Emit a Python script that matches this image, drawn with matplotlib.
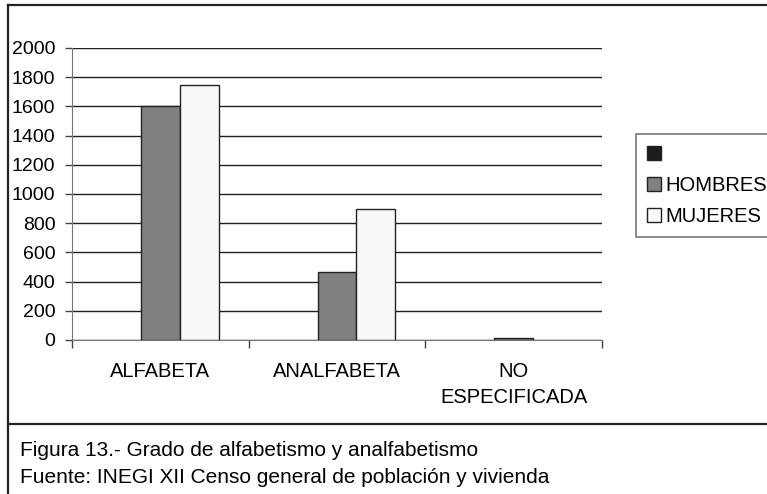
import matplotlib
matplotlib.use("AGG")
import matplotlib.pyplot as plt
from matplotlib.patches import Patch
from matplotlib.lines import Line2D
import numpy as np

categorias = ['ALFABETA', 'ANALFABETA', 'NO\nESPECIFICADA']
serie_vacia = [0, 0, 0]
hombres = [1600, 465, 12]
mujeres = [1745, 895, 0]
etiquetas = ['', 'HOMBRES', 'MUJERES']
colores = ['#1c1c1c', '#808080', '#f8f8f8']
y_ticks = [0, 200, 400, 600, 800, 1000, 1200, 1400, 1600, 1800, 2000]

plt.rcParams['font.family'] = ['Liberation Sans', 'DejaVu Sans']

fig = plt.figure(figsize=(7.67, 4.94), dpi=100)
ax = fig.add_axes([72 / 767, 1 - 340 / 494, 530 / 767, 292 / 494])

x = np.arange(len(categorias))
w = 0.22
for k, serie in enumerate([serie_vacia, hombres, mujeres]):
    bordes = ['#222222' if v > 0 else 'none' for v in serie]
    ax.bar(x + (k - 1) * w, serie, w, color=colores[k], edgecolor=bordes,
           linewidth=1.0, zorder=3)

ax.set_xlim(-0.5, 2.5)
ax.set_ylim(0, 2000)
ax.set_yticks(y_ticks)
ax.set_yticklabels([str(v) for v in y_ticks], fontsize=14)
ax.yaxis.grid(True, color='#222222', linewidth=1.0, zorder=0)
ax.tick_params(axis='y', length=5, width=1, color='#444444', pad=7)

ax.set_xticks(x)
ax.set_xticklabels(categorias, fontsize=14.5, linespacing=1.45)
ax.tick_params(axis='x', length=0, pad=16)
ax.set_xticks([-0.5, 0.5, 1.5, 2.5], minor=True)
ax.tick_params(axis='x', which='minor', length=6, width=1, color='#444444')

for s in ['top', 'right']:
    ax.spines[s].set_visible(False)
ax.spines['left'].set_color('#777777')
ax.spines['bottom'].set_color('#777777')

handles = [Patch(facecolor=colores[k], edgecolor='#222222', linewidth=1)
           for k in range(3)]
leg = fig.legend(handles, etiquetas, loc='upper left',
                 bbox_to_anchor=(636 / 767, 1 - 134 / 494), fontsize=14.5,
                 handlelength=0.7, handleheight=0.7, handletextpad=0.2,
                 labelspacing=0.6, borderpad=0.55, borderaxespad=0,
                 fancybox=False, framealpha=1)
leg.get_frame().set_edgecolor('#777777')
leg.get_frame().set_linewidth(1.2)

# marco de la figura
def px(xp, yp):
    return xp / 767, 1 - yp / 494

for (x0, y0), (x1, y1) in [((8, 5), (767, 5)), ((8, 5), (8, 494)),
                           ((8, 424), (767, 424))]:
    a, b = px(x0, y0)
    c, d = px(x1, y1)
    fig.add_artist(Line2D([a, c], [b, d], color='#222222', linewidth=1.6))

fig.text(20 / 767, 1 - 450 / 494,
         'Figura 13.- Grado de alfabetismo y analfabetismo',
         fontsize=15, va='center', ha='left')
fig.text(20 / 767, 1 - 477 / 494,
         'Fuente: INEGI XII Censo general de población y vivienda',
         fontsize=15, va='center', ha='left')

plt.savefig('out.png', dpi=100)
